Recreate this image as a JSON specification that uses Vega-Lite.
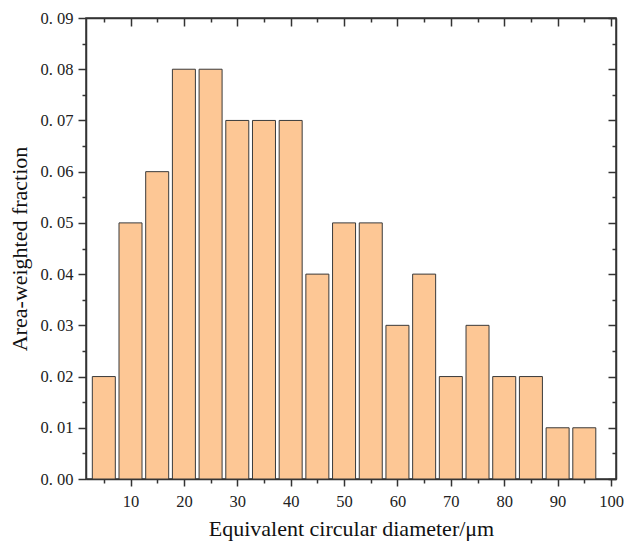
{
  "$schema": "https://vega.github.io/schema/vega-lite/v6.json",
  "width": 530,
  "height": 461,
  "autosize": {"type": "none"},
  "padding": {"left": 86, "top": 18, "right": 14, "bottom": 70},
  "background": "white",
  "config": {
    "view": {"stroke": "#333", "strokeWidth": 1.5},
    "font": "Liberation Serif",
    "axis": {"labelFont": "Liberation Serif", "titleFont": "Liberation Serif", "titleFontWeight": "normal", "domainColor": "#333", "tickColor": "#333", "labelColor": "#222", "titleColor": "#111", "grid": false, "domainWidth": 1.5, "tickWidth": 1.5}
  },
  "data": {"values": [
    {"d": 5, "f": 0.02}, {"d": 10, "f": 0.05}, {"d": 15, "f": 0.06}, {"d": 20, "f": 0.08},
    {"d": 25, "f": 0.08}, {"d": 30, "f": 0.07}, {"d": 35, "f": 0.07}, {"d": 40, "f": 0.07},
    {"d": 45, "f": 0.04}, {"d": 50, "f": 0.05}, {"d": 55, "f": 0.05}, {"d": 60, "f": 0.03},
    {"d": 65, "f": 0.04}, {"d": 70, "f": 0.02}, {"d": 75, "f": 0.03}, {"d": 80, "f": 0.02},
    {"d": 85, "f": 0.02}, {"d": 90, "f": 0.01}, {"d": 95, "f": 0.01}
  ]},
  "resolve": {"axis": {"x": "independent", "y": "independent"}},
  "layer": [
    {
      "mark": {"type": "bar", "width": 23, "fill": "#FDC795", "stroke": "#3a3a3a", "strokeWidth": 1},
      "encoding": {
        "x": {"field": "d", "type": "quantitative", "scale": {"domain": [2.6, 100], "nice": false, "zero": false},
          "axis": {"orient": "bottom", "values": [10,20,30,40,50,60,70,80,90,100], "tickSize": 7, "labelFontSize": 16.5, "labelPadding": 7, "title": "Equivalent circular diameter/μm", "titleFontSize": 22, "titlePadding": 9}},
        "y": {"field": "f", "type": "quantitative", "scale": {"domain": [0, 0.09], "nice": false},
          "axis": {"orient": "left", "values": [0,0.01,0.02,0.03,0.04,0.05,0.06,0.07,0.08,0.09], "format": ".2f", "labelExpr": "replace(datum.label, '.', '. ')", "tickSize": 8, "labelFontSize": 16.5, "labelPadding": 5, "title": "Area-weighted fraction", "titleFontSize": 22, "titlePadding": 9}}
      }
    },
    {
      "mark": {"type": "bar", "width": 23, "opacity": 0},
      "encoding": {
        "x": {"field": "d", "type": "quantitative", "axis": {"orient": "bottom", "values": [5,15,25,35,45,55,65,75,85,95], "tickSize": 4, "labels": false, "domain": false, "title": null}},
        "y": {"field": "f", "type": "quantitative", "axis": {"orient": "left", "values": [0.005,0.015,0.025,0.035,0.045,0.055,0.065,0.075,0.085], "tickSize": 4, "labels": false, "domain": false, "title": null}}
      }
    },
    {
      "mark": {"type": "bar", "width": 23, "opacity": 0},
      "encoding": {
        "x": {"field": "d", "type": "quantitative", "axis": {"orient": "top", "values": [10,20,30,40,50,60,70,80,90,100], "tickSize": -8, "labels": false, "title": null}},
        "y": {"field": "f", "type": "quantitative", "axis": {"orient": "right", "values": [0,0.01,0.02,0.03,0.04,0.05,0.06,0.07,0.08,0.09], "tickSize": -8, "labels": false, "title": null}}
      }
    },
    {
      "mark": {"type": "bar", "width": 23, "opacity": 0},
      "encoding": {
        "x": {"field": "d", "type": "quantitative", "axis": {"orient": "top", "values": [5,15,25,35,45,55,65,75,85,95], "tickSize": -4, "labels": false, "domain": false, "title": null}},
        "y": {"field": "f", "type": "quantitative", "axis": {"orient": "right", "values": [0.005,0.015,0.025,0.035,0.045,0.055,0.065,0.075,0.085], "tickSize": -4, "labels": false, "domain": false, "title": null}}
      }
    }
  ]
}
